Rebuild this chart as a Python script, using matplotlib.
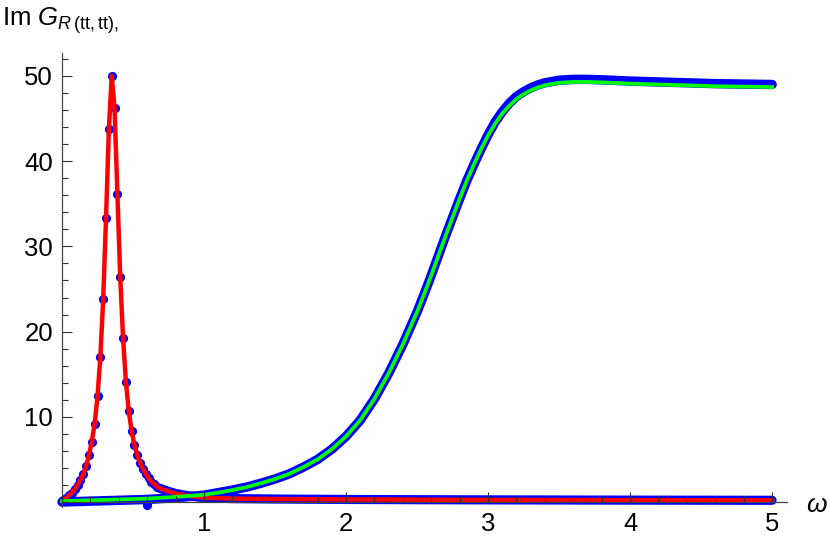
import numpy as np
import matplotlib
matplotlib.use("Agg")
import matplotlib.pyplot as plt
from matplotlib.ticker import FixedLocator, MultipleLocator

plt.rcParams['font.family'] = ['Liberation Sans', 'DejaVu Sans']
plt.rcParams['mathtext.fontset'] = 'custom'
plt.rcParams['mathtext.rm'] = 'Liberation Sans'
plt.rcParams['mathtext.it'] = 'Liberation Sans:italic'

# peak data (blue dots)
peak_w = [0.01, 0.03, 0.05, 0.07, 0.09, 0.11, 0.13, 0.15, 0.17, 0.19,
          0.21, 0.23, 0.25, 0.27, 0.29, 0.31, 0.33, 0.35, 0.37, 0.39,
          0.41, 0.43, 0.45, 0.47, 0.49, 0.51, 0.53, 0.55, 0.57, 0.59,
          0.61, 0.63, 0.65, 0.67, 0.69]
peak_y = [0.2, 0.5, 0.8, 1.1, 1.5, 2.0, 2.6, 3.3, 4.2, 5.5,
          7.1, 9.2, 12.4, 17.0, 23.8, 33.3, 43.8, 50.0, 46.2, 36.2,
          26.4, 19.2, 14.1, 10.7, 8.3, 6.7, 5.5, 4.6, 3.9, 3.3,
          2.8, 2.4, 2.1, 1.8, 1.6]
# tail of the peak data, where the dots merge into a band
tail_w = [0.69, 0.75, 0.8, 0.9, 1.0, 1.2, 1.5, 2.0, 2.5, 3.0, 4.0, 5.0]
tail_y = [1.6, 1.25, 1.0, 0.7, 0.5, 0.4, 0.35, 0.3, 0.27, 0.25, 0.22, 0.2]

# step data (green fit, blue dots)
step_w = [0.0, 0.2, 0.4, 0.6, 0.8, 1.0, 1.1, 1.2, 1.3, 1.4, 1.5, 1.6, 1.7,
          1.8, 1.9, 2.0, 2.1, 2.2, 2.3, 2.4, 2.5, 2.55, 2.6, 2.65, 2.7, 2.75,
          2.8, 2.85, 2.9, 2.95, 3.0, 3.05, 3.1, 3.15, 3.2, 3.25, 3.3, 3.35,
          3.4, 3.45, 3.5, 3.6, 3.7, 3.8, 4.0, 4.2, 4.4, 4.6, 4.8, 5.0]
step_fit = [0.1, 0.2, 0.3, 0.4, 0.6, 0.85, 1.1, 1.4, 1.75, 2.2, 2.7, 3.3, 4.1,
            5.0, 6.2, 7.7, 9.6, 12.1, 15.1, 18.5, 22.3, 24.4, 26.6, 28.9, 31.2, 33.4,
            35.6, 37.7, 39.6, 41.4, 43.0, 44.4, 45.6, 46.5, 47.3, 47.85, 48.3, 48.65,
            48.9, 49.05, 49.2, 49.3, 49.3, 49.25, 49.1, 49.0, 48.9, 48.8, 48.75, 48.7]
step_dat = [0.0, 0.1, 0.2, 0.3, 0.5, 0.8, 1.1, 1.4, 1.75, 2.2, 2.7, 3.3, 4.1,
            5.0, 6.2, 7.7, 9.6, 12.1, 15.1, 18.5, 22.3, 24.4, 26.6, 28.9, 31.2, 33.4,
            35.6, 37.7, 39.6, 41.4, 43.1, 44.6, 45.8, 46.8, 47.6, 48.15, 48.6, 48.95,
            49.2, 49.35, 49.5, 49.6, 49.6, 49.55, 49.4, 49.3, 49.2, 49.1, 49.05, 49.0]
odd_w = [0.6]
odd_y = [-0.4]

fig = plt.figure(figsize=(8.3, 5.4), dpi=100)
ax = fig.add_axes([0.0747, 0.0609, 0.8735, 0.841])

blue = '#0000ff'
# data points
ax.plot(tail_w, tail_y, color=blue, lw=6.6, solid_capstyle='round', zorder=1.0, clip_on=False)
ax.plot(peak_w, peak_y, 'o', color=blue, ms=6.6, mew=0, zorder=1.0, clip_on=False)
ax.plot(step_w, step_dat, color=blue, lw=6.8, solid_capstyle='round', zorder=1.1, clip_on=False)
ax.plot(odd_w, odd_y, 'o', color=blue, ms=6.6, mew=0, zorder=1.1, clip_on=False)

# fits
ax.plot(peak_w + tail_w[1:], peak_y + tail_y[1:], color='#ff0000', lw=3.2, zorder=1.5, clip_on=False)
ax.plot(step_w, step_fit, color='#00ff00', lw=2.7, zorder=1.6, clip_on=False)

ax.set_xlim(0, 5.105)
ax.set_ylim(-0.6, 52.7)

for s in ['top', 'right']:
    ax.spines[s].set_visible(False)
ax.spines['left'].set_position(('data', 0))
ax.spines['bottom'].set_position(('data', 0))
for s in ['left', 'bottom']:
    ax.spines[s].set_color('#444444')
    ax.spines[s].set_linewidth(0.9)
ax.set_axisbelow(False)

ax.xaxis.set_major_locator(FixedLocator([1, 2, 3, 4, 5]))
ax.xaxis.set_minor_locator(MultipleLocator(0.2))
ax.yaxis.set_major_locator(FixedLocator([10, 20, 30, 40, 50]))
ax.yaxis.set_minor_locator(MultipleLocator(2))
ax.tick_params(which='both', direction='in', color='#333333', width=0.8, labelsize=18.5)
ax.tick_params(which='major', length=7)
ax.tick_params(which='minor', length=4)
ax.tick_params(axis='x', pad=7.5)
ax.tick_params(axis='y', pad=6.5)

fig.text(817 / 830, 1 - 505 / 540, r'$\omega$', fontsize=19, ha='center', va='center')
fig.text(2 / 830, 1 - 26 / 540, r'Im $G_{R\,\mathrm{(tt,tt),}}$', fontsize=18.5, ha='left', va='baseline')

fig.savefig('out.png', dpi=100)
